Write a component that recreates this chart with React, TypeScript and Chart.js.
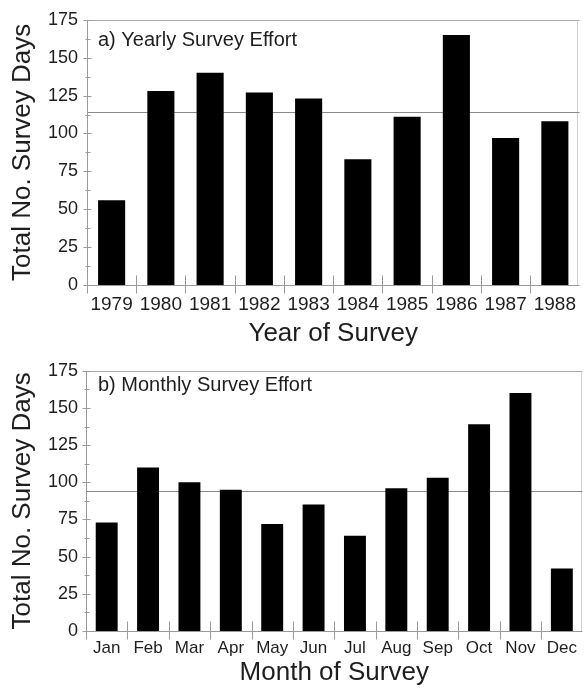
import React, { useEffect, useRef } from "react";
import { Chart, registerables } from "chart.js";

Chart.register(...registerables);

const YEARS = ["1979", "1980", "1981", "1982", "1983", "1984", "1985", "1986", "1987", "1988"];
const YEARLY_DAYS = [56, 128, 140, 127, 123, 83, 111, 165, 97, 108];
const YEARLY_MEAN = 114;

const MONTHS = ["Jan", "Feb", "Mar", "Apr", "May", "Jun", "Jul", "Aug", "Sep", "Oct", "Nov", "Dec"];
const MONTHLY_DAYS = [73, 110, 100, 95, 72, 85, 64, 96, 103, 139, 160, 42];
const MONTHLY_MEAN = 94;

const Y_MAJOR_TICKS = [0, 25, 50, 75, 100, 125, 150, 175];
const Y_MINOR_TICKS = [12.5, 37.5, 62.5, 87.5, 112.5, 137.5, 162.5];

const FONT = "'Liberation Sans', Arial, Helvetica, sans-serif";
const TEXT = "#1e1e1e";

const decorPlugin = {
  id: "decor",
  beforeDatasetsDraw(chart: any, _args: any, opts: any) {
    const { ctx, chartArea: a, scales } = chart;
    const x = scales.x;
    const y = scales.y;
    const seg = (x1: number, y1: number, x2: number, y2: number) => {
      ctx.beginPath();
      ctx.moveTo(x1, y1);
      ctx.lineTo(x2, y2);
      ctx.stroke();
    };
    ctx.save();
    ctx.lineWidth = 1;
    const topY = Math.round(y.getPixelForValue(175)) + 0.5;
    const zeroY = Math.round(y.getPixelForValue(0)) + 0.5;
    const leftX = Math.round(a.left) + 0.5;
    const rightX = Math.round(a.right) - 1.5;
    // frame
    ctx.strokeStyle = "#a8a8a8";
    seg(a.left, topY, a.right, topY);
    ctx.strokeStyle = "#d0d0d0";
    seg(rightX, topY, rightX, zeroY);
    // mean line
    ctx.strokeStyle = "#8a8a8a";
    const my = Math.round(y.getPixelForValue(opts.mean)) + 0.5;
    seg(a.left, my, a.right, my);
    // axes
    ctx.strokeStyle = "#9a9a9a";
    seg(leftX, topY, leftX, zeroY + 8);
    seg(a.left, zeroY, a.right, zeroY);
    // y ticks
    Y_MAJOR_TICKS.forEach((v) => {
      const py = Math.round(y.getPixelForValue(v)) + 0.5;
      seg(leftX - 4, py, leftX + 4, py);
    });
    Y_MINOR_TICKS.forEach((v) => {
      const py = Math.round(y.getPixelForValue(v)) + 0.5;
      seg(leftX - 2, py, leftX + 3, py);
    });
    // x category separators
    const n = chart.data.labels.length;
    for (let i = 1; i <= n; i++) {
      const px = Math.round(x.getPixelForValue(i - 0.5)) + 0.5;
      if (i === n) continue;
      seg(px, zeroY - 10, px, zeroY + 8);
    }
    // panel title
    ctx.fillStyle = TEXT;
    ctx.font = `20px ${FONT}`;
    ctx.textBaseline = "middle";
    ctx.textAlign = "left";
    ctx.fillText(opts.title, 98, opts.titleY);
    ctx.restore();
  },
};

type PanelProps = {
  labels: string[];
  values: number[];
  mean: number;
  title: string;
  titleY: number;
  xTitle: string;
  height: number;
  topPad: number;
  rightPad: number;
  yWidth: number;
  xHeight: number;
  xTickSize: number;
  xTickPad: number;
  xTitlePad: number;
  yTickPad: number;
  barPct: number;
};

function Panel(p: PanelProps) {
  const ref = useRef<HTMLCanvasElement | null>(null);
  useEffect(() => {
    if (!ref.current) return;
    const chart = new Chart(ref.current, {
      type: "bar",
      data: {
        labels: p.labels,
        datasets: [
          {
            data: p.values,
            backgroundColor: "#000000",
            borderWidth: 0,
            categoryPercentage: 1,
            barPercentage: p.barPct,
          },
        ],
      },
      plugins: [decorPlugin],
      options: {
        responsive: false,
        animation: false,
        devicePixelRatio: 1,
        layout: { padding: { top: p.topPad, right: p.rightPad, bottom: 0, left: 0 } },
        plugins: {
          legend: { display: false },
          tooltip: { enabled: false },
          decor: { mean: p.mean, title: p.title, titleY: p.titleY },
        } as any,
        scales: {
          x: {
            type: "category",
            offset: true,
            grid: { display: false, drawTicks: false },
            border: { display: false },
            ticks: {
              padding: p.xTickPad,
              color: TEXT,
              font: { size: p.xTickSize, family: FONT },
              maxRotation: 0,
              autoSkip: false,
            },
            title: {
              display: true,
              text: p.xTitle,
              color: TEXT,
              font: { size: 26, family: FONT },
              padding: { top: 0, bottom: p.xTitlePad },
            },
            afterFit: (s: any) => {
              s.height = p.xHeight;
            },
          },
          y: {
            min: 0,
            max: 175,
            grid: { display: false, drawTicks: false },
            border: { display: false },
            ticks: {
              stepSize: 25,
              padding: p.yTickPad,
              color: TEXT,
              font: { size: 18, family: FONT },
            },
            title: {
              display: true,
              text: "Total No. Survey Days",
              color: TEXT,
              font: { size: 26, family: FONT },
              padding: { top: 7, bottom: 0 },
            },
            afterFit: (s: any) => {
              s.width = p.yWidth;
            },
          },
        },
      } as any,
    });
    return () => chart.destroy();
  }, []);
  return <canvas ref={ref} width={584} height={p.height} style={{ display: "block" }} />;
}

export default function App() {
  return (
    <div style={{ position: "absolute", left: 0, top: 0, width: 584, height: 688, background: "#fff" }}>
      <Panel
        labels={YEARS}
        values={YEARLY_DAYS}
        mean={YEARLY_MEAN}
        title="a) Yearly Survey Effort"
        titleY={40}
        xTitle="Year of Survey"
        height={352}
        topPad={15}
        rightPad={0}
        yWidth={87}
        xHeight={67}
        xTickSize={19}
        xTickPad={8}
        xTitlePad={3}
        yTickPad={9}
        barPct={0.55}
      />
      <Panel
        labels={MONTHS}
        values={MONTHLY_DAYS}
        mean={MONTHLY_MEAN}
        title="b) Monthly Survey Effort"
        titleY={33}
        xTitle="Month of Survey"
        height={336}
        topPad={14}
        rightPad={1}
        yWidth={86}
        xHeight={57}
        xTickSize={17}
        xTickPad={7}
        xTitlePad={0}
        yTickPad={8}
        barPct={0.53}
      />
    </div>
  );
}
